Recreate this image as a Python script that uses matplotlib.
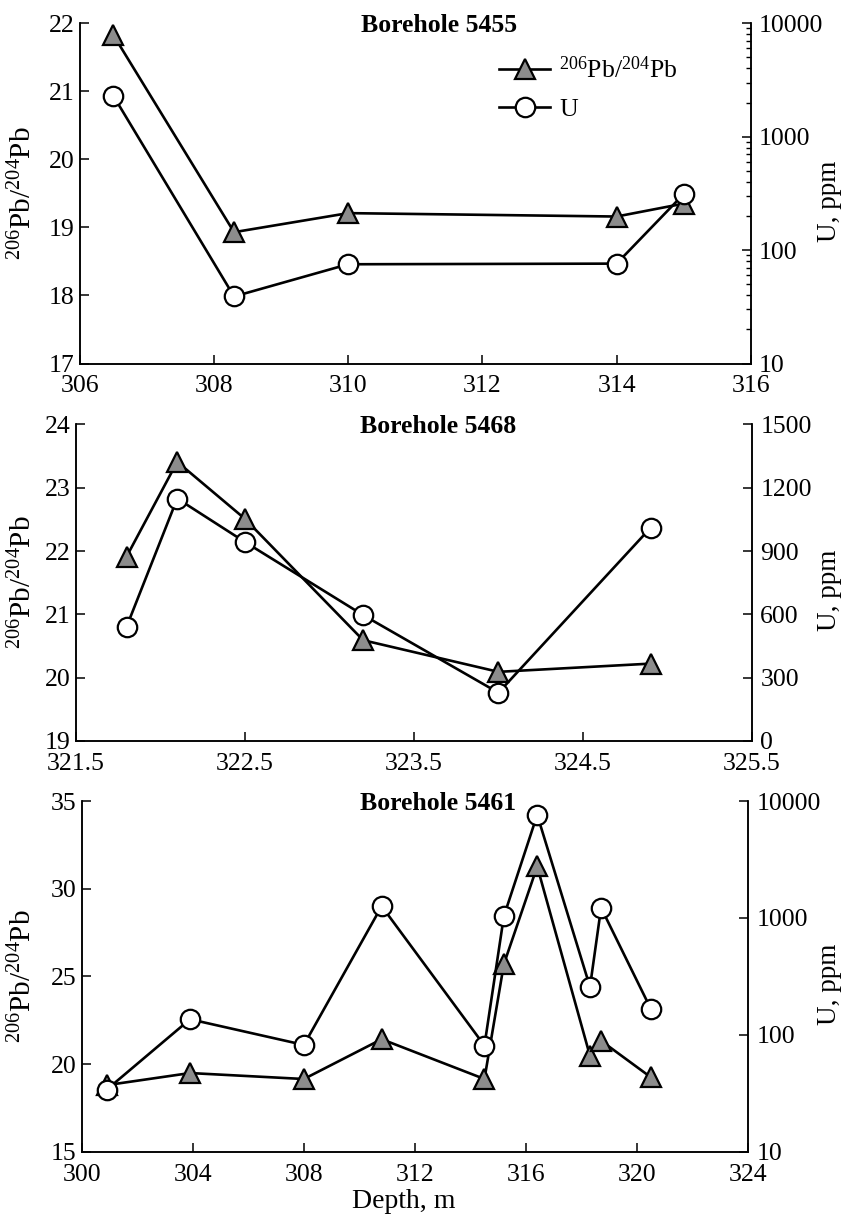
import matplotlib
matplotlib.use('Agg')
import matplotlib.pyplot as plt
import matplotlib.ticker as mticker

plt.rcParams['font.family'] = ['Liberation Serif', 'DejaVu Serif']
plt.rcParams['mathtext.fontset'] = 'custom'
plt.rcParams['mathtext.rm'] = 'Liberation Serif'
plt.rcParams['mathtext.it'] = 'Liberation Serif:italic'
plt.rcParams['mathtext.bf'] = 'Liberation Serif:bold'

# ---------------- data ----------------
titles = ['Borehole 5455', 'Borehole 5468', 'Borehole 5461']

depth_5455 = [306.5, 308.3, 310.0, 314.0, 315.0]
pb_5455 = [21.83, 18.93, 19.21, 19.16, 19.35]
u_5455 = [2300, 39, 75, 76, 312]

depth_5468 = [321.8, 322.1, 322.5, 323.2, 324.0, 324.9]
pb_5468 = [21.91, 23.41, 22.51, 20.59, 20.09, 20.22]
u_5468 = [540, 1149, 943, 596, 228, 1010]

depth_5461 = [300.9, 303.9, 308.0, 310.8, 314.5, 315.2, 316.4, 318.3, 318.7, 320.5]
pb_5461 = [18.8, 19.49, 19.15, 21.42, 19.15, 25.7, 31.27, 20.47, 21.33, 19.24]
u_5461 = [34, 136, 82, 1260, 81, 1035, 7620, 257, 1222, 165]

xticks_5455 = [306, 308, 310, 312, 314, 316]
yticks_5455 = [17, 18, 19, 20, 21, 22]
uticks_5455 = [10, 100, 1000, 10000]

xticks_5468 = [321.5, 322.5, 323.5, 324.5, 325.5]
yticks_5468 = [19, 20, 21, 22, 23, 24]
uticks_5468 = [0, 300, 600, 900, 1200, 1500]

xticks_5461 = [300, 304, 308, 312, 316, 320, 324]
yticks_5461 = [15, 20, 25, 30, 35]
uticks_5461 = [10, 100, 1000, 10000]

pb_label = r'$^{206}\mathrm{Pb}/^{204}\mathrm{Pb}$'
u_label = 'U, ppm'
x_label = 'Depth, m'

# ---------------- layout ----------------
W, H = 844, 1216
fig = plt.figure(figsize=(W / 100, H / 100), dpi=100)

def fr(left, top, right, bottom):
    return [left / W, 1 - bottom / H, (right - left) / W, (bottom - top) / H]

boxes = [fr(79.7, 23.3, 750.8, 363.5),
         fr(75.8, 424.5, 752.0, 740.8),
         fr(81.7, 801.0, 748.3, 1151.8)]

FS = 18.5
GREY = '#8c8c8c'
LW = 1.9

panels = [
    (depth_5455, pb_5455, u_5455, xticks_5455, yticks_5455, uticks_5455, 'log'),
    (depth_5468, pb_5468, u_5468, xticks_5468, yticks_5468, uticks_5468, 'linear'),
    (depth_5461, pb_5461, u_5461, xticks_5461, yticks_5461, uticks_5461, 'log'),
]
title_pos = [(439, 32), (438, 433), (438, 810)]

axes_list = []
for i, (box, (d, pb, u, xt, yt, ut, uscale)) in enumerate(zip(boxes, panels)):
    ax = fig.add_axes(box)
    ax2 = ax.twinx()
    for a in (ax, ax2):
        a.spines['top'].set_visible(False)
        for s in ('left', 'right', 'bottom'):
            a.spines[s].set_linewidth(1.1)
    ax.patch.set_alpha(0)

    lp, = ax.plot(d, pb, color='black', lw=LW, marker='^', ms=14,
                  mfc=GREY, mec='black', mew=1.6, clip_on=False)
    lu, = ax2.plot(d, u, color='black', lw=LW, marker='o', ms=14,
                   mfc='white', mec='black', mew=1.6, clip_on=False)

    ax.set_xlim(xt[0], xt[-1])
    ax.set_xticks(xt)
    ax.set_xticklabels([f'{v:g}' for v in xt])
    ax.set_ylim(yt[0], yt[-1])
    ax.set_yticks(yt)
    ax.set_yticklabels([f'{v:g}' for v in yt])

    ax2.set_yscale(uscale)
    ax2.set_ylim(ut[0], ut[-1])
    ax2.set_yticks(ut)
    ax2.set_yticklabels([f'{v:g}' for v in ut])
    if uscale == 'log':
        if i == 0:
            ax2.yaxis.set_minor_locator(mticker.LogLocator(base=10, subs=range(2, 10)))
        else:
            ax2.yaxis.set_minor_locator(mticker.NullLocator())
        ax2.yaxis.set_minor_formatter(mticker.NullFormatter())

    ax.tick_params(axis='x', direction='in', length=6.5, width=1.1,
                   labelsize=FS, pad=8.5, top=False)
    ax.tick_params(axis='y', direction='in', length=6.5, width=1.1,
                   labelsize=FS, pad=4, right=False)
    ax2.tick_params(axis='y', which='major', direction='in', length=6.5,
                    width=1.1, labelsize=FS, pad=6)
    ax2.tick_params(axis='y', which='minor', direction='in', length=3.5,
                    width=1.0)

    # titles and axis labels
    fig.text(title_pos[i][0] / W, 1 - title_pos[i][1] / H, titles[i],
             ha='center', va='baseline', fontsize=18.5, fontweight='bold')
    top_px = (1 - box[1] - box[3]) * H
    bot_px = (1 - box[1]) * H
    mid = (top_px + bot_px) / 2
    fig.text(23 / W, 1 - mid / H, pb_label, rotation=90, ha='center',
             va='center', fontsize=21)
    fig.text(830 / W, 1 - (mid + 8) / H, u_label, rotation=90, ha='center',
             va='center', fontsize=19.5)
    axes_list.append((ax, ax2, lp, lu))

# legend in top panel
ax, ax2, lp, lu = axes_list[0]
leg = ax2.legend([lp, lu], [pb_label, 'U'], loc='upper left',
                 bbox_to_anchor=(499 / W, 1 - 56 / H),
                 bbox_transform=fig.transFigure, frameon=False,
                 fontsize=FS, handlelength=2.0, handletextpad=0.35,
                 borderpad=0, borderaxespad=0, labelspacing=0.62)

fig.text(404 / W, 1 - 1202 / H, x_label, ha='center', va='center', fontsize=20)

fig.savefig('out.png', dpi=100)
